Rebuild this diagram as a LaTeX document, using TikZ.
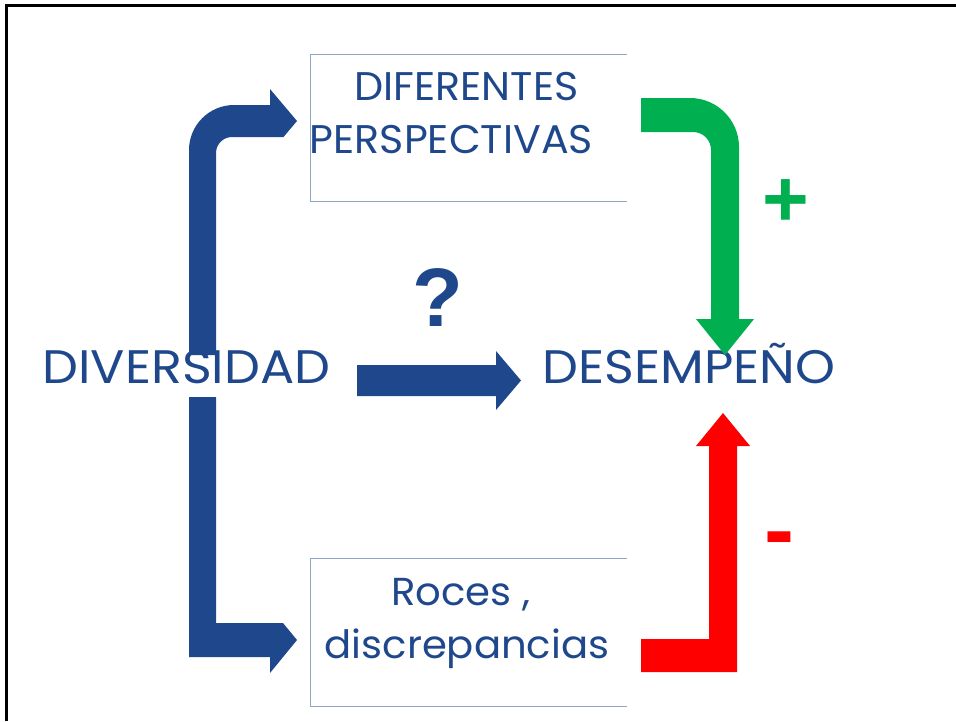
\documentclass[tikz,border=0pt]{standalone}
\usepackage{fontspec}
\setmainfont{Poppins}
\newfontfamily\wideA[FakeStretch=1.08]{Poppins}
\newfontfamily\wideB[FakeStretch=1.03]{Poppins}
\newfontfamily\symfont{Liberation Sans}
\definecolor{dblue}{RGB}{31,72,140}
\definecolor{pgreen}{RGB}{0,176,80}
\definecolor{pred}{RGB}{255,0,0}
\definecolor{boxline}{RGB}{143,164,201}
\begin{document}
\begin{tikzpicture}[x=1pt,y=-1pt,
  lbl/.style={text=dblue, inner sep=0pt, anchor=base},
  openbox/.style={draw=boxline, line width=1.2pt},
  holder/.style={inner sep=0pt, minimum width=316pt, minimum height=147pt},
  sym/.style={inner sep=0pt, anchor=base, font=\symfont\bfseries}]
\fill[white] (0,0) rectangle (956,721);
\useasboundingbox (0,0) rectangle (956,721);
% outer frame (top and left edges)
\draw[line width=2.5pt] (6.5,721) -- (6.5,5.5) -- (956,5.5);

% boxes
\node[holder] (persp) at (469,128) {};
\draw[openbox] (persp.north east) -- (persp.north west) -- (persp.south west) -- (persp.south east);
\node[holder] (roces) at (469,632.5) {};
\draw[openbox] (roces.north east) -- (roces.north west) -- (roces.south west) -- (roces.south east);

% texts
\node[lbl, font=\wideB\fontsize{40}{48}\selectfont] (t1) at (466.5,100) {DIFERENTES};
\node[lbl, font=\wideB\fontsize{40}{48}\selectfont] (t2) at (451.5,153) {PERSPECTIVAS};
\node[lbl, font=\wideB\fontsize{39}{46}\selectfont] (t3) at (461,605) {Roces ,};
\node[lbl, font=\wideB\fontsize{39}{46}\selectfont] (t4) at (467,658) {discrepancias};
\node[lbl, font=\wideA\fontsize{47}{56}\selectfont] (div) at (186.5,383) {DIVERSIDAD};
\node[lbl, font=\wideA\fontsize{47}{56}\selectfont] (des) at (689,383) {DESEMPEÑO};
\node[sym, text=dblue, font=\symfont\bfseries\fontsize{83}{90}\selectfont] (q) at (437.5,326) {?};
\node[sym, text=pgreen, font=\symfont\bfseries\fontsize{80}{90}\selectfont] (plus) at (786,226) {+};
\node[sym, text=pred, font=\symfont\bfseries\fontsize{90}{100}\selectfont] (minus) at (779.5,560) {-};

% blue bent arrow up
\fill[dblue] (189,355) -- (189,150) .. controls (189,125.2) and (209.2,105) .. (234,105)
  -- (270,105) -- (270,89) -- (297,121) -- (283.5,137) -- (232,137)
  .. controls (223.2,137) and (216,144.2) .. (216,153) -- (216,355) -- cycle;
% blue bent arrow down
\fill[dblue] (189,397) -- (189,657) -- (270,657) -- (270,673) -- (297,640)
  -- (283,623) -- (216,623) -- (216,397) -- cycle;
% middle arrow
\fill[dblue] (357,365) -- (496,365) -- (496,351) -- (521,380.5) -- (496,410) -- (496,396) -- (357,396) -- cycle;
% green arrow
\fill[pgreen] (641,98) -- (690,98) .. controls (717,98) and (739,120) .. (739,147)
  -- (739,319) -- (754,319) -- (725,355) -- (696,319) -- (711,319) -- (711,150)
  .. controls (711,140) and (703,132) .. (693,132) -- (641,132) -- cycle;
% red arrow
\fill[pred] (641,639) -- (709,639) -- (709,446) -- (696,446) -- (723,413) -- (750,446)
  -- (737,446) -- (737,672) -- (641,672) -- cycle;
\end{tikzpicture}
\end{document}
